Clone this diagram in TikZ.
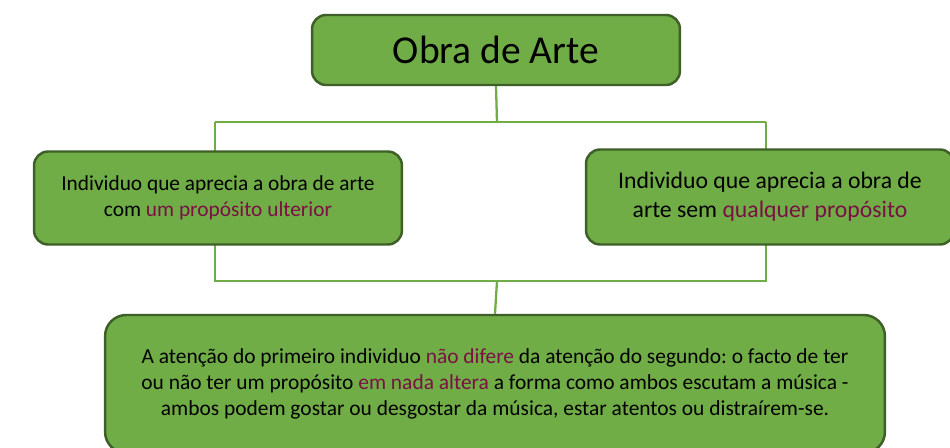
\documentclass[tikz,border=0pt]{standalone}
\usepackage{fontspec}
\setmainfont{Carlito}
\frenchspacing
\usetikzlibrary{backgrounds}

\definecolor{boxgreen}{RGB}{112,173,71}
\definecolor{boxborder}{RGB}{62,95,40}
\definecolor{linegreen}{RGB}{112,173,71}
\definecolor{marked}{RGB}{122,16,68}

\tikzset{
	caixa/.style={draw=boxborder,line width=1.4pt,fill=boxgreen,rounded corners=8pt,align=center,inner sep=0pt},
	ligacao/.style={draw=linegreen,line width=1.3pt}
}
\newcommand{\realce}[1]{\textcolor{marked}{#1}}

\begin{document}
\begin{tikzpicture}[x=0.02cm,y=-0.02cm]
	\useasboundingbox (0,0) rectangle (950,448);
	
	\node[caixa,minimum width=7.36cm,minimum height=1.4cm,font=\fontsize{22.5}{26}\selectfont] (obra) at (496,50) {Obra de Arte};
	\node[caixa,minimum width=7.36cm,minimum height=1.86cm,font=\fontsize{12.15}{14.8}\selectfont] (comproposito) at (218,198) {Individuo que aprecia a obra de arte\\com \realce{um propósito ulterior}};
	\node[caixa,minimum width=7.36cm,minimum height=1.9cm,font=\fontsize{13.5}{16.5}\selectfont] (semproposito) at (770,197) {Individuo que aprecia a obra de\\arte sem \realce{qualquer propósito}};
	\node[caixa,rounded corners=12pt,minimum width=15.6cm,minimum height=2.76cm,font=\fontsize{12.2}{15}\selectfont] (atencao) at (495,384) {A atenção do primeiro individuo \realce{não difere} da atenção do segundo: o facto de ter\\ou não ter um propósito \realce{em nada altera} a forma como ambos escutam a música -\\ambos podem gostar ou desgostar da música, estar atentos ou distraírem-se.};
	
	\coordinate (topo) at (497,122); \coordinate (topoesq) at (215,122); \coordinate (topodir) at (766,122);
	\coordinate (baixo) at (497,281); \coordinate (baixoesq) at (215,281); \coordinate (baixodir) at (766,281);
	
	\begin{scope}[on background layer]
		\draw[ligacao] (obra.south) -- (topo);
		\draw[ligacao] (topoesq) -- (topodir);
		\draw[ligacao] (topoesq) -- (baixoesq) -- (baixodir) -- (topodir);
		\draw[ligacao] (baixo) -- (atencao.north);
	\end{scope}
\end{tikzpicture}
\end{document}
